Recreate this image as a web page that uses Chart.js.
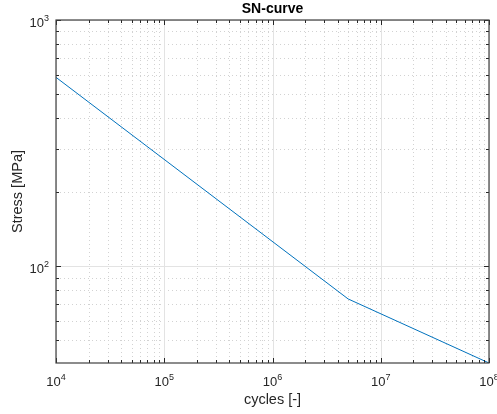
<!DOCTYPE html>
<html>
<head>
<meta charset="utf-8">
<script src="https://cdn.jsdelivr.net/npm/chart.js@4"></script>
<style>
  html, body { margin: 0; padding: 0; background: #fff; }
  #wrap { width: 497px; height: 414px; }
</style>
</head>
<body>
<div id="wrap"><canvas id="myChart" width="497" height="414"></canvas></div>
<script>
// SN-curve data
const cycles = [1e4, 5e6, 1e8];
const stress = [585, 73.7, 40.5];

// axis decades (exponents of tick labels)
const xDecades = [4, 5, 6, 7, 8];
const yDecades = [2, 3];

const FONT = '"Liberation Sans", Arial, Helvetica, sans-serif';

// draws the MATLAB style box, grid, ticks and labels
const matlabAxes = {
    id: 'matlabAxes',
    beforeDatasetsDraw(chart) {
        const ctx = chart.ctx;
        const a = chart.chartArea;
        const xs = chart.scales.x, ys = chart.scales.y;
        ctx.save();

        // minor grid (dotted)
        ctx.strokeStyle = '#d2d2d2';
        ctx.lineWidth = 1;
        ctx.setLineDash([1, 3]);
        for (let e = 4; e < 8; e++) {
            for (let m = 2; m <= 9; m++) {
                const px = Math.round(xs.getPixelForValue(m * Math.pow(10, e))) + 0.5;
                ctx.beginPath(); ctx.moveTo(px, a.top); ctx.lineTo(px, a.bottom); ctx.stroke();
            }
        }
        for (let e = 1; e < 3; e++) {
            for (let m = 2; m <= 9; m++) {
                const v = m * Math.pow(10, e);
                if (v <= ys.min || v >= ys.max) continue;
                const py = Math.round(ys.getPixelForValue(v)) + 0.5;
                ctx.beginPath(); ctx.moveTo(a.left, py); ctx.lineTo(a.right, py); ctx.stroke();
            }
        }
        // major grid
        ctx.setLineDash([]);
        ctx.strokeStyle = '#e3e3e3';
        xDecades.forEach(e => {
            const px = Math.round(xs.getPixelForValue(Math.pow(10, e))) + 0.5;
            ctx.beginPath(); ctx.moveTo(px, a.top); ctx.lineTo(px, a.bottom); ctx.stroke();
        });
        yDecades.forEach(e => {
            const py = Math.round(ys.getPixelForValue(Math.pow(10, e))) + 0.5;
            ctx.beginPath(); ctx.moveTo(a.left, py); ctx.lineTo(a.right, py); ctx.stroke();
        });
        ctx.restore();
    },
    afterDatasetsDraw(chart) {
        const ctx = chart.ctx;
        const a = chart.chartArea;
        const xs = chart.scales.x, ys = chart.scales.y;
        ctx.save();
        ctx.strokeStyle = '#262626';
        ctx.lineWidth = 1;

        // tick marks, inside, on all four sides
        const xTick = (v, len) => {
            const px = Math.round(xs.getPixelForValue(v)) + 0.5;
            ctx.beginPath();
            ctx.moveTo(px, a.bottom); ctx.lineTo(px, a.bottom - len);
            ctx.moveTo(px, a.top); ctx.lineTo(px, a.top + len);
            ctx.stroke();
        };
        const yTick = (v, len) => {
            const py = Math.round(ys.getPixelForValue(v)) + 0.5;
            ctx.beginPath();
            ctx.moveTo(a.left, py); ctx.lineTo(a.left + len, py);
            ctx.moveTo(a.right, py); ctx.lineTo(a.right - len, py);
            ctx.stroke();
        };
        for (let e = 4; e < 8; e++) {
            for (let m = 2; m <= 9; m++) xTick(m * Math.pow(10, e), 3);
        }
        xDecades.forEach(e => xTick(Math.pow(10, e), 5));
        for (let e = 1; e < 3; e++) {
            for (let m = 2; m <= 9; m++) {
                const v = m * Math.pow(10, e);
                if (v > ys.min && v < ys.max) yTick(v, 3);
            }
        }
        yDecades.forEach(e => yTick(Math.pow(10, e), 5));

        // box
        ctx.lineWidth = 1.2;
        ctx.strokeStyle = '#404040';
        ctx.strokeRect(a.left, a.top, a.right - a.left, a.bottom - a.top);

        // tick labels 10^n
        ctx.fillStyle = '#262626';
        const power = (x, y, e, align) => {
            ctx.font = '13px ' + FONT;
            const w1 = ctx.measureText('10').width;
            ctx.font = '9px ' + FONT;
            const w2 = ctx.measureText(String(e)).width;
            let x0 = x;
            if (align === 'center') x0 = x - (w1 + w2) / 2;
            if (align === 'right') x0 = x - (w1 + w2);
            ctx.textAlign = 'left';
            ctx.textBaseline = 'alphabetic';
            ctx.font = '13px ' + FONT;
            ctx.fillText('10', x0, y);
            ctx.font = '9px ' + FONT;
            ctx.fillText(String(e), x0 + w1, y - 6.5);
        };
        xDecades.forEach(e => power(xs.getPixelForValue(Math.pow(10, e)), a.bottom + 23, e, 'center'));
        yDecades.forEach(e => power(a.left - 7, ys.getPixelForValue(Math.pow(10, e)) + 7, e, 'right'));

        // axis titles
        ctx.font = '14.5px ' + FONT;
        ctx.textAlign = 'center';
        ctx.textBaseline = 'middle';
        ctx.fillText('cycles [-]', (a.left + a.right) / 2, 400);
        ctx.save();
        ctx.translate(17.5, (a.top + a.bottom) / 2);
        ctx.rotate(-Math.PI / 2);
        ctx.fillText('Stress [MPa]', 0, 0);
        ctx.restore();

        // title
        ctx.font = 'bold 14px ' + FONT;
        ctx.fillStyle = '#000';
        ctx.fillText('SN-curve', (a.left + a.right) / 2, 9);
        ctx.restore();
    }
};

const config = {
    type: 'scatter',
    data: {
        datasets: [{
            label: 'SN-curve',
            data: cycles.map((c, i) => ({ x: c, y: stress[i] })),
            showLine: true,
            borderColor: '#0072BD',
            borderWidth: 1,
            pointRadius: 0,
            tension: 0
        }]
    },
    options: {
        responsive: false,
        animation: false,
        devicePixelRatio: 1,
        layout: {
            padding: { left: 56, top: 20, right: 8, bottom: 51 }
        },
        scales: {
            x: { type: 'logarithmic', display: false, min: 1e4, max: 1e8 },
            y: { type: 'logarithmic', display: false, min: 40.5, max: 1000 }
        },
        plugins: {
            legend: { display: false },
            tooltip: { enabled: false }
        }
    },
    plugins: [matlabAxes]
};

new Chart(document.getElementById('myChart'), config);
</script>
</body>
</html>
